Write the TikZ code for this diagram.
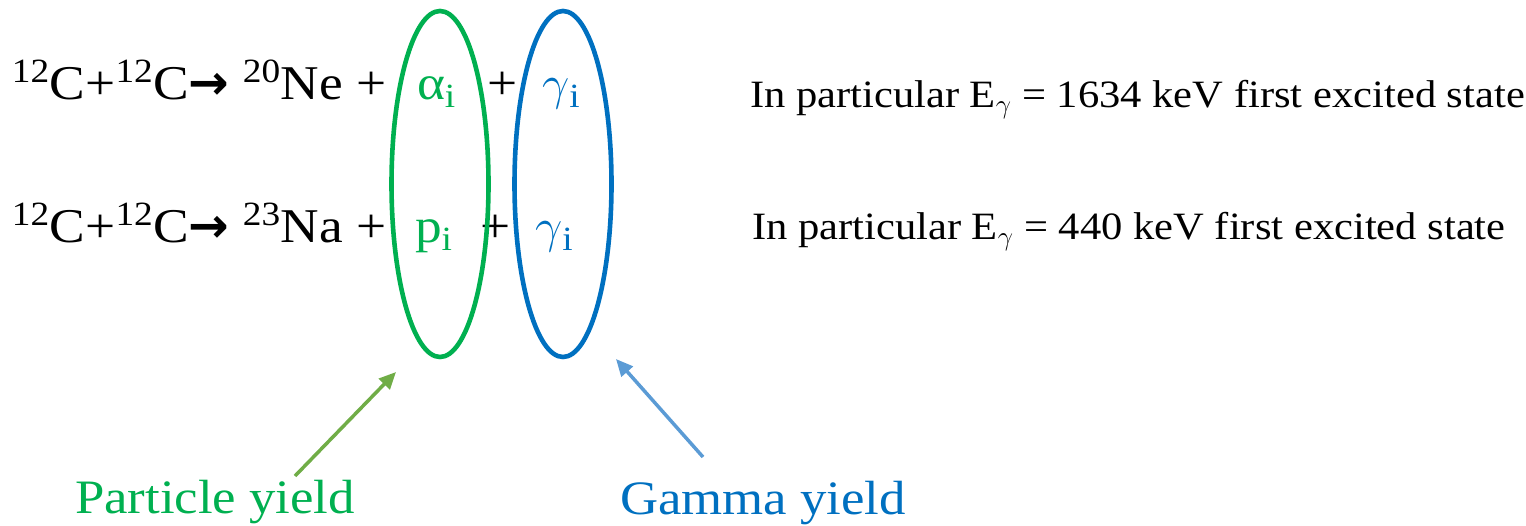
\RequirePackage{fix-cm}
\documentclass[tikz,border=0pt]{standalone}
\usepackage{fontspec}
\setmainfont{Liberation Serif}[FakeStretch=1.1]
\newfontfamily\arrowfont{DejaVu Sans}
\usepackage{xcolor}
\usetikzlibrary{shapes.geometric,arrows.meta}
\definecolor{partgreen}{RGB}{0,176,80}
\definecolor{gamblue}{RGB}{0,112,192}
\definecolor{arrgreen}{RGB}{112,173,71}
\definecolor{arrblue}{RGB}{91,155,213}

\begin{document}
\begin{tikzpicture}[x=1pt, y=-1pt, every node/.style={inner sep=0pt, outer sep=0pt},
  eqtext/.style={anchor=base west, font=\fontsize{48.5}{56}\selectfont},
  infotext/.style={anchor=base west, font=\fontsize{38.7}{46}\selectfont},
  labeltext/.style={anchor=base west, font=\fontsize{48}{56}\selectfont},
  ring/.style={draw, ellipse, line width=4.6pt, minimum width=97, minimum height=346},
  yieldarrow/.style={line width=3.5pt, -{Triangle[length=17pt, width=15pt]}}]
\useasboundingbox (0,0) rectangle (1526,526);
% reactions
\node[eqtext] (reacne) at (12,100) {\textsuperscript{12}C+\textsuperscript{12}C{\arrowfont\bfseries →} \textsuperscript{20}Ne +};
\node[eqtext] (reacna) at (12,243) {\textsuperscript{12}C+\textsuperscript{12}C{\arrowfont\bfseries →} \textsuperscript{23}Na +};
\node[eqtext, text=partgreen] (alpha) at (417,100) {α\textsubscript{i}};
\node[eqtext] (plusa) at (487,100) {+};
\node[eqtext, text=gamblue] (gama) at (542,100) {$\gamma$\textsubscript{i}};
\node[eqtext, text=partgreen] (proton) at (415,243) {p\textsubscript{i}};
\node[eqtext] (plusb) at (480,243) {+};
\node[eqtext, text=gamblue] (gamb) at (535,243) {$\gamma$\textsubscript{i}};
% groups
\node[ring, draw=partgreen] (partring) at (440,184) {};
\node[ring, draw=gamblue] (gamring) at (563,184) {};
% notes
\node[infotext] (notene) at (750,108) {In particular E\textsubscript{$\gamma$} = 1634 keV first excited state};
\node[infotext] (notena) at (752,240) {In particular E\textsubscript{$\gamma$} = 440 keV first excited state};
% labels
\node[labeltext, text=partgreen] (partlabel) at (75,513) {Particle yield};
\node[labeltext, text=gamblue] (gamlabel) at (620,514) {Gamma yield};
\coordinate (parttail) at (295,476);
\coordinate (parttip) at (396,372);
\coordinate (gamtail) at (703,457);
\coordinate (gamtip) at (616,359);
\draw[yieldarrow, arrgreen] (parttail) -- (parttip);
\draw[yieldarrow, arrblue] (gamtail) -- (gamtip);
\end{tikzpicture}
\end{document}
